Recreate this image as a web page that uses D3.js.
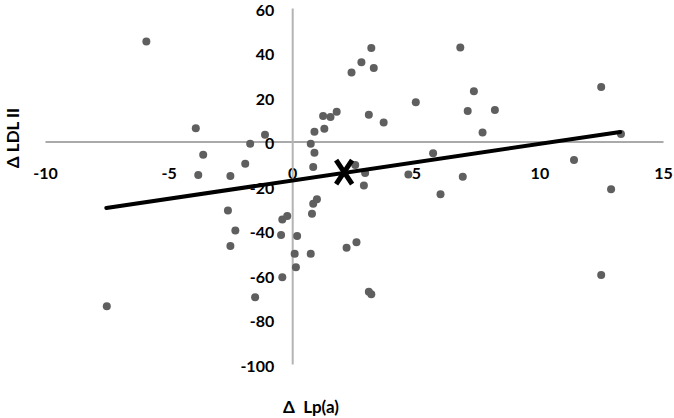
<!DOCTYPE html>
<html>
<head>
<meta charset="utf-8">
<script src="https://cdn.jsdelivr.net/npm/d3@7"></script>
<style>
  body { margin: 0; background: #fff; }
  .tick text { font-family: Lato, "Open Sans", sans-serif; font-weight: bold; font-size: 16px; fill: #000; }
  .axislabel { font-family: Lato, "Open Sans", sans-serif; font-weight: bold; font-size: 17px; fill: #000; }
</style>
</head>
<body>
<div id="chart"></div>
<script>
// Δ Lp(a) vs Δ LDL II
var lpaDelta = [-7.5, -5.9, -3.9, -3.6, -3.8, -2.5, -1.9, -1.7, -1.1, -2.6,
                -2.3, -2.5, -1.5, -0.4, -0.45, -0.4, -0.2, 0.2, 0.1, 0.15,
                0.75, 0.8, 0.85, 1.0, 0.85, 0.75, 0.9, 0.9, 1.3, 1.25,
                1.55, 1.8, 2.4, 2.8, 3.2, 3.3, 3.1, 3.7, 2.55, 2.95,
                2.9, 2.2, 2.6, 3.1, 3.2, 4.7, 5.0, 5.7, 6.0, 6.9,
                6.8, 7.1, 7.35, 7.7, 8.2, 11.4, 12.5, 12.5, 12.9, 13.3];
var ldlDelta = [-74, 45, 6, -6, -15, -15.5, -10, -1, 3, -31,
                -40, -47, -70, -61, -42, -35, -33.5, -42.5, -50.5, -56.5,
                -50.5, -32.5, -28, -26, -11.5, -1, -5, 4.4, 5.7, 11.5,
                11, 13.4, 31, 35.6, 42, 33, 12, 8.5, -10.6, -14.2,
                -19.8, -47.7, -45.3, -67.5, -68.7, -14.8, 17.6, -5.3, -23.7, -15.8,
                42.2, 13.7, 22.6, 4, 14.2, -8.3, 24.5, -60, -21.5, 3.4];
var trendLine = [[-7.52, -29.9], [13.27, 4.3]];
var meanPoint = [2.1, -13.8];
var xTicks = [-10, -5, 0, 5, 10, 15];
var yTicks = [-100, -80, -60, -40, -20, 0, 20, 40, 60];

var svg = d3.select("#chart").append("svg").attr("width", 674).attr("height", 418);

var x = d3.scaleLinear().domain([-10, 15]).range([45, 663]);
var y = d3.scaleLinear().domain([-100, 60]).range([364, 8]);

// plain hyphen minus, like the original
var fmt = function(d) { return String(d); };

var xAxis = d3.axisBottom(x).tickValues(xTicks).tickSize(0).tickPadding(26).tickFormat(fmt);
var yAxis = d3.axisLeft(y).tickValues(yTicks).tickSize(0).tickPadding(18).tickFormat(fmt);

var gx = svg.append("g").attr("class", "x axis")
    .attr("transform", "translate(0," + y(0) + ")").call(xAxis);
gx.select(".domain").attr("stroke", "#8e8e8e").attr("stroke-width", 1.3);

var gy = svg.append("g").attr("class", "y axis")
    .attr("transform", "translate(" + x(0) + ",0)").call(yAxis);
gy.select(".domain").attr("stroke", "#b4b4b4").attr("stroke-width", 2);
gy.selectAll(".tick text").attr("dy", "0.45em");

svg.append("g").selectAll("circle").data(d3.zip(lpaDelta, ldlDelta)).enter()
    .append("circle")
    .attr("cx", function(d) { return x(d[0]); })
    .attr("cy", function(d) { return y(d[1]); })
    .attr("r", 4)
    .attr("fill", "#5f5f5f");

var line = d3.line()
    .x(function(d) { return x(d[0]); })
    .y(function(d) { return y(d[1]); });

svg.append("path").datum(trendLine)
    .attr("fill", "none")
    .attr("stroke", "#000")
    .attr("stroke-width", 4)
    .attr("stroke-linecap", "round")
    .attr("d", line);

// mean marker (big X)
var mx = x(meanPoint[0]), my = y(meanPoint[1]);
svg.append("path")
    .attr("d", "M" + (mx - 8) + "," + (my - 12) + "L" + (mx + 8) + "," + (my + 12) +
               "M" + (mx + 8) + "," + (my - 12) + "L" + (mx - 8) + "," + (my + 12))
    .attr("stroke", "#000")
    .attr("stroke-width", 5)
    .attr("fill", "none");

svg.append("text")
    .attr("class", "axislabel")
    .attr("text-anchor", "middle")
    .attr("transform", "translate(19,138) rotate(-90)")
    .text("Δ LDL II");

svg.append("text")
    .attr("class", "axislabel")
    .attr("text-anchor", "middle")
    .attr("x", 311).attr("y", 413)
    .attr("font-size", "18px")
    .text("Δ\u00a0\u00a0Lp(a)");
</script>
</body>
</html>
